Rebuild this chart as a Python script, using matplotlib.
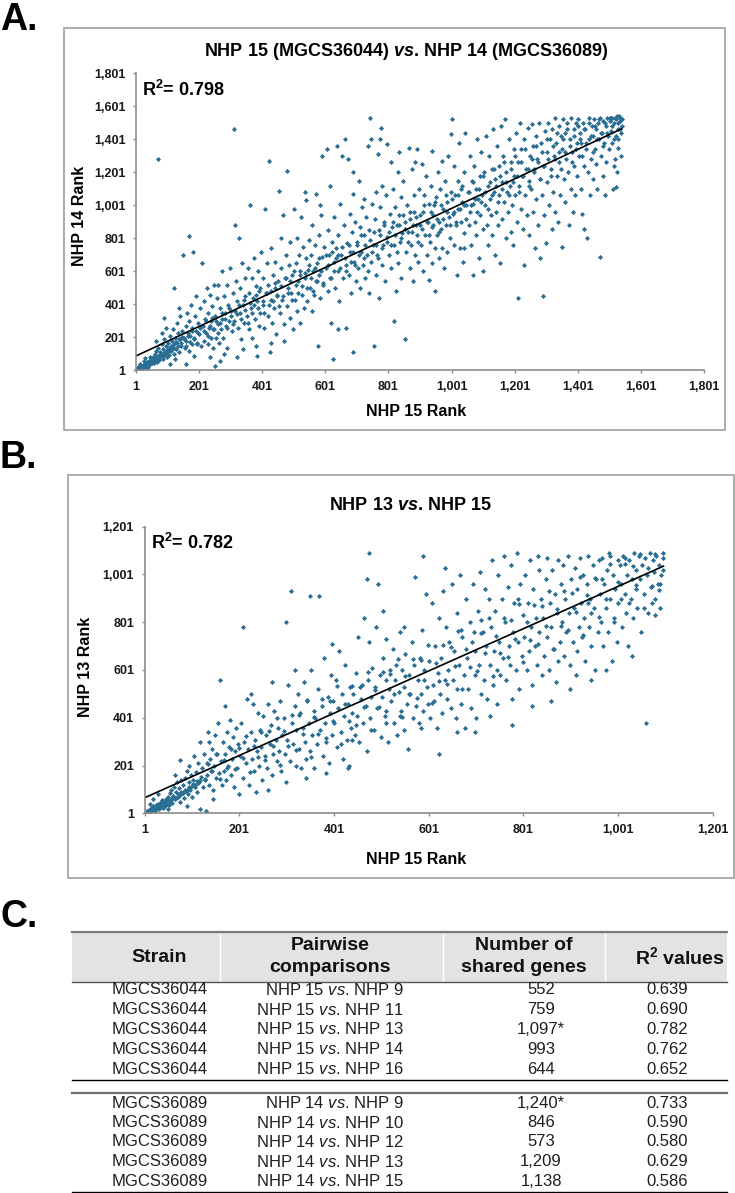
import matplotlib
matplotlib.use("Agg")
import matplotlib.pyplot as plt
import numpy as np
from matplotlib.patches import Rectangle
from matplotlib.lines import Line2D

plt.rcParams['font.family'] = ['Liberation Sans', 'DejaVu Sans']
plt.rcParams['mathtext.fontset'] = 'custom'
plt.rcParams['mathtext.rm'] = 'Liberation Sans'
plt.rcParams['mathtext.it'] = 'Liberation Sans:italic'
plt.rcParams['mathtext.bf'] = 'Liberation Sans:bold'
plt.rcParams['mathtext.bfit'] = 'Liberation Sans:italic:bold'

#%% data (rank pairs, estimated)
# panel A: NHP 15 rank (x) vs NHP 14 rank (y)
pts_a = [
 (2,3),(5,8),(8,4),(10,15),(12,9),(15,22),(18,12),(20,30),(22,18),(25,35),(28,20),(30,45),(33,28),(35,50),
 (38,40),(40,25),(42,60),(45,38),(48,55),(50,70),(14,40),(26,60),(36,15),(44,80),(6,20),(31,75),
 (52,45),(55,80),(58,60),(60,100),(62,75),(65,120),(68,50),(70,90),(72,140),(75,65),(78,110),(80,95),
 (82,160),(85,70),(88,130),(90,190),(92,100),(95,150),(98,80),(100,120),(70,1280),(90,320),(64,180),(84,230),(96,260),
 (102,170),(105,95),(108,140),(110,210),(112,120),(115,180),(118,250),(120,100),(122,160),(125,200),(128,130),
 (130,290),(132,170),(135,230),(138,110),(140,190),(142,330),(145,150),(148,240),(120,500),(150,700),(110,40),(136,380),(126,70),
 (152,200),(155,140),(158,270),(160,180),(162,350),(165,230),(168,120),(170,300),(172,210),(175,400),(178,160),
 (180,260),(182,720),(185,190),(188,330),(190,240),(192,450),(195,170),(198,290),(170,815),(160,40),(185,90),
 (202,220),(205,380),(208,150),(210,650),(212,270),(215,180),(218,420),(220,310),(222,230),(225,500),(228,160),
 (230,350),(232,260),(235,460),(238,200),(240,300),(242,390),(245,140),(248,520),(250,30),(236,80),(244,250),
 (252,330),(255,200),(258,440),(260,280),(262,520),(265,170),(268,380),(270,250),(272,600),(275,310),(278,200),
 (280,450),(282,350),(285,270),(288,520),(290,140),(292,400),(295,300),(298,620),(280,100),(266,60),
 (302,360),(305,240),(308,470),(310,1465),(312,300),(315,880),(318,540),(320,80),(322,420),(325,260),(328,800),
 (330,350),(332,500),(335,190),(338,650),(340,400),(342,290),(345,560),(348,450),(340,130),
 (352,330),(355,620),(358,250),(360,470),(362,1000),(365,380),(368,560),(370,200),(372,440),(375,680),(378,310),
 (380,510),(382,150),(385,420),(388,600),(390,270),(392,480),(395,350),(398,720),(385,90),
 (402,400),(405,560),(408,260),(410,980),(412,470),(415,650),(418,330),(420,520),(422,1270),(425,110),(428,430),
 (430,740),(432,290),(435,580),(438,380),(440,500),(442,660),(445,220),(448,450),(430,170),
 (452,540),(455,1090),(458,350),(460,800),(462,620),(465,430),(468,940),(470,280),(472,560),(475,700),(478,390),
 (480,1210),(482,500),(485,640),(488,320),(490,780),(492,470),(495,580),(498,250),(470,180),
 (502,980),(505,430),(508,650),(510,360),(512,800),(515,540),(518,700),(520,290),(522,600),(525,930),(528,460),
 (530,750),(532,380),(535,560),(538,1080),(540,680),(542,420),(545,610),(548,790),(540,1030),
 (552,500),(555,700),(558,360),(560,880),(562,600),(565,460),(568,760),(570,1070),(572,540),(575,650),(578,150),
 (580,820),(582,580),(585,440),(588,940),(590,690),(592,1300),(595,520),(598,750),(585,1000),
 (602,620),(605,1340),(608,480),(610,850),(612,700),(615,1120),(618,560),(620,290),(622,780),(625,70),(628,660),
 (630,930),(632,500),(635,740),(638,1360),(640,600),(642,820),(645,420),(648,1010),(640,250),
 (652,700),(655,1300),(658,560),(660,880),(662,1400),(665,640),(668,260),(670,770),(672,1280),(675,580),(678,950),
 (680,720),(682,470),(685,840),(688,110),(690,1070),(692,660),(695,900),(698,540),(690,1200),
 (702,780),(705,620),(708,1150),(710,870),(712,500),(715,720),(718,990),(720,640),(722,1040),(725,820),(728,560),
 (730,930),(732,700),(735,1360),(738,470),(740,850),(742,1530),(745,660),(748,1010),(745,1400),
 (752,760),(755,150),(758,920),(760,580),(762,1080),(765,700),(768,1310),(770,850),(772,440),(775,990),(778,1470),
 (780,640),(782,1120),(785,760),(788,900),(790,540),(792,1060),(795,810),(798,1370),(775,1400),
 (802,700),(805,950),(808,1260),(810,620),(812,870),(815,1100),(818,760),(820,300),(822,990),(825,480),(828,880),
 (830,1200),(832,650),(835,940),(838,780),(840,1050),(842,560),(845,830),(848,1150),(835,1320),
 (852,900),(855,190),(858,720),(860,1000),(862,840),(865,1350),(868,620),(870,960),(872,760),(875,1220),(878,880),
 (880,540),(882,1060),(885,700),(888,930),(890,820),(892,1340),(895,660),(898,1100),(885,1260),
 (902,880),(905,760),(908,1250),(910,960),(912,600),(915,1060),(918,820),(920,1180),(922,700),(925,900),(928,550),
 (930,1010),(932,780),(935,1120),(938,870),(940,650),(942,940),(945,1000),(948,740),(950,480),(940,1330),
 (952,1050),(955,820),(958,1200),(960,900),(962,680),(965,1100),(968,860),(970,1270),(972,740),(975,980),(978,620),
 (980,1150),(982,880),(985,1020),(988,720),(990,1300),(992,930),(995,800),(998,1080),(1000,1430),
 (1002,1520),(1005,950),(1008,760),(1010,1240),(1012,1060),(1015,880),(1018,580),(1020,1150),(1022,980),(1025,1380),
 (1028,740),(1030,1100),(1032,900),(1035,1020),(1038,660),(1040,1200),(1042,830),(1045,1440),(1048,1000),(1040,740),
 (1052,1080),(1055,880),(1058,1300),(1060,960),(1062,760),(1065,1150),(1068,1010),(1070,580),(1072,1240),(1075,900),
 (1078,1100),(1080,820),(1082,1400),(1085,1040),(1088,680),(1090,1180),(1092,940),(1095,1320),(1098,1060),(1100,860),
 (1102,600),(1105,1200),(1108,1000),(1110,1420),(1112,880),(1115,1120),(1118,760),(1120,1300),(1122,1040),(1125,940),
 (1128,1220),(1130,820),(1132,1460),(1135,1080),(1138,700),(1140,1160),(1142,960),(1145,1360),(1148,880),(1150,1240),
 (1152,1060),(1155,650),(1158,1480),(1160,1140),(1162,920),(1165,1300),(1168,1020),(1170,1520),(1172,800),(1175,1200),
 (1178,1080),(1180,960),(1182,1400),(1185,1120),(1188,840),(1190,1260),(1192,1000),(1195,760),(1198,1340),(1200,1180),
 (1202,1060),(1205,1440),(1208,900),(1210,440),(1212,1260),(1215,1120),(1218,1500),(1220,980),(1222,1340),(1225,1180),
 (1228,860),(1230,640),(1232,1400),(1235,1060),(1238,1220),(1240,940),(1242,1470),(1245,1150),(1248,820),(1250,1300),
 (1252,1100),(1255,1490),(1258,960),(1260,1360),(1262,1220),(1265,740),(1268,1420),(1270,1040),(1272,1280),(1275,880),
 (1278,1500),(1280,1160),(1282,680),(1285,1380),(1288,1060),(1290,450),(1292,1240),(1295,940),(1298,1450),(1300,770),
 (1302,1320),(1305,1140),(1308,1500),(1310,1000),(1312,1400),(1315,1220),(1318,860),(1320,1460),(1322,1080),(1325,1300),
 (1328,1530),(1330,960),(1332,1380),(1335,1180),(1338,900),(1340,1480),(1342,1260),(1345,1060),(1348,1420),(1350,750),
 (1352,1340),(1355,1520),(1358,1160),(1360,1440),(1362,1020),(1365,1280),(1368,1500),(1370,1200),(1372,880),(1375,1400),
 (1378,1100),(1380,1530),(1382,1320),(1385,960),(1388,1460),(1390,1240),(1392,1060),(1395,1500),(1398,1380),(1400,1180),
 (1402,1520),(1405,1300),(1408,1440),(1410,1100),(1412,1380),(1415,950),(1418,1500),(1420,1240),(1422,860),(1425,1460),
 (1428,1340),(1430,800),(1432,1200),(1435,1530),(1438,1400),(1440,1060),(1442,1280),(1445,1480),(1448,1160),(1450,1420),
 (1452,1520),(1455,1340),(1458,1460),(1460,1250),(1462,1100),(1465,1500),(1468,1400),(1470,690),(1472,1530),(1475,1300),
 (1478,1440),(1480,1180),(1482,1510),(1485,1380),(1488,1060),(1490,1480),(1492,1260),(1495,1530),(1498,1420),(1500,1340),
 (1502,1510),(1505,1450),(1508,1530),(1510,1380),(1512,1100),(1515,1500),(1518,1280),(1520,1530),(1522,1420),(1525,1200),
 (1528,1500),(1530,1350),(1532,1540),(1535,1460),(1538,1300),(1540,1520),(1522,1110),(1515,1240),(1530,1400),(1538,1440),
 (1505,1530),(1525,1540),(1535,1510),
]
# denser core of panel A, close to the trend line
core_a = [
 (3,5),(7,10),(11,6),(16,18),(19,25),(23,14),(27,30),(32,22),(37,33),(41,45),(46,50),(53,62),(57,48),(63,70),
 (67,85),(73,78),(77,95),(83,100),(87,88),(93,115),(97,105),(103,130),(107,118),(113,150),(117,135),(123,140),
 (127,175),(133,150),(137,190),(143,170),(147,205),(153,190),
 (160,150),(165,210),(172,175),(178,240),(186,200),(193,160),(198,230),(205,260),
 (215,240),(222,300),(228,210),(235,270),(242,320),(248,250),(255,300),(262,230),
 (268,290),(275,350),(282,310),(288,260),(295,380),(302,330),(308,280),(315,360),
 (322,340),(328,400),(335,310),(342,430),(348,370),(355,290),(362,410),(368,350),
 (375,400),(382,460),(388,380),(395,500),(402,420),(408,350),(415,470),(422,400),
 (428,480),(435,420),(442,530),(448,460),(455,390),(462,510),(468,450),(475,560),
 (482,470),(488,540),(495,430),(502,600),(508,520),(515,470),(522,580),(528,510),
 (535,590),(542,500),(548,640),(555,560),(562,480),(568,620),(575,540),(582,680),
 (588,600),(595,530),(602,700),(608,640),(615,560),(622,720),(628,600),(635,680),
 (642,700),(648,620),(655,750),(662,680),(668,600),(675,760),(682,660),(688,720),
 (695,640),(702,760),(708,700),(715,820),(722,680),(728,760),(735,600),(742,790),
 (748,720),(755,840),(762,760),(768,680),(775,820),(782,740),(788,880),(795,780),
 (802,840),(808,760),(815,900),(822,820),(828,720),(835,880),(842,800),(848,940),
 (855,860),(862,780),(868,920),(875,840),(882,960),(888,880),(895,780),(902,940),
 (908,860),(915,1000),(922,900),(928,820),(935,960),(942,880),(948,1020),(955,920),
 (962,840),(968,1000),(975,920),(982,1060),(988,960),(995,880),(1002,1040),(1008,960),
 (1015,900),(1022,1060),(1028,980),(1035,1120),(1042,1000),(1048,920),(1055,1080),(1062,1000),
 (1068,1140),(1075,1040),(1082,960),(1088,1100),(1095,1020),(1102,1180),(1108,1080),(1115,980),
 (1122,1140),(1128,1060),(1135,1220),(1142,1120),(1148,1020),(1155,1180),(1162,1100),(1168,1260),
 (1175,1140),(1182,1060),(1188,1220),(1195,1140),(1202,1300),(1208,1180),(1215,1080),(1222,1260),
 (1228,1180),(1235,1340),(1242,1220),(1248,1120),(1255,1280),(1262,1200),(1268,1360),(1275,1260),
 (1282,1160),(1288,1320),(1295,1240),(1302,1400),(1308,1280),(1315,1180),(1322,1360),(1328,1280),
 (1335,1440),(1342,1320),(1348,1220),(1355,1400),(1362,1320),(1368,1460),(1375,1360),(1382,1260),
 (1388,1420),(1395,1340),(1402,1480),(1408,1400),(1415,1300),(1422,1460),(1428,1380),(1435,1500),
 (1442,1420),(1448,1320),(1455,1480),(1462,1400),(1468,1520),(1475,1440),(1482,1360),(1488,1500),
 (1495,1440),(1502,1530),(1508,1480),(1515,1400),(1522,1520),(1528,1460),(1535,1530),(1540,1480),
]

# panel B: NHP 15 rank (x) vs NHP 13 rank (y)
pts_b = [
 (2,2),(4,8),(6,3),(8,12),(10,6),(12,18),(14,10),(16,24),(18,14),(20,30),(22,20),(24,12),(26,36),(28,25),(30,40),
 (32,18),(34,46),(36,30),(38,55),(40,22),(20,60),(30,80),(12,40),
 (42,48),(44,30),(46,60),(48,40),(50,70),(52,35),(54,85),(56,55),(58,100),(60,45),(62,75),(64,110),(66,60),(68,90),
 (70,130),(72,70),(74,105),(76,50),(78,140),(80,85),(50,20),(66,160),(75,225),
 (82,120),(84,65),(86,150),(88,95),(90,180),(92,80),(94,130),(96,200),(98,100),(100,160),(102,70),(104,140),(106,240),
 (108,110),(110,175),(112,90),(114,210),(116,130),(118,300),(120,155),(90,30),(118,20),
 (122,190),(124,110),(126,250),(128,140),(130,10),(132,210),(134,160),(136,340),(138,120),(140,230),(142,180),(144,270),
 (146,100),(148,200),(150,330),(152,150),(154,250),(156,380),(158,170),(160,560),(145,60),(138,300),
 (162,220),(164,120),(166,300),(168,180),(170,450),(172,250),(174,140),(176,340),(178,200),(180,280),(182,390),(184,160),
 (186,230),(188,320),(190,110),(192,260),(194,360),(196,190),(198,290),(200,80),
 (202,240),(205,380),(208,150),(210,780),(212,300),(215,210),(218,480),(220,270),(222,120),(225,340),(228,230),(230,460),
 (232,180),(235,310),(238,260),(240,420),(236,90),(226,500),
 (242,200),(245,350),(248,280),(250,140),(252,410),(255,240),(258,330),(260,190),(262,460),(265,290),(268,370),(270,160),
 (272,250),(275,430),(278,310),(280,220),(270,550),(262,100),
 (282,360),(285,260),(288,470),(290,180),(292,330),(295,400),(298,250),(300,800),(302,310),(305,540),(308,220),(310,930),
 (312,380),(315,290),(318,450),(320,200),(300,130),(318,600),
 (322,350),(325,500),(328,270),(330,420),(332,190),(335,360),(338,550),(340,300),(342,230),(345,470),(348,380),(350,260),
 (352,600),(355,330),(358,430),(360,190),(350,910),(342,150),
 (362,400),(365,290),(368,520),(370,910),(372,350),(375,450),(378,240),(380,650),(382,380),(385,300),(388,490),(390,210),
 (392,420),(395,580),(398,330),(400,470),(385,170),(396,710),
 (402,380),(405,560),(408,280),(410,440),(412,680),(415,340),(418,500),(420,230),(422,410),(425,620),(428,310),(430,460),
 (432,200),(435,530),(438,360),(440,420),(430,190),(440,310),
 (442,500),(445,330),(448,590),(450,410),(452,740),(455,300),(458,480),(460,540),(462,380),(465,820),(468,450),(470,260),
 (472,560),(475,720),(478,400),(480,490),(470,980),(476,1090),
 (482,610),(485,350),(488,530),(490,780),(492,440),(495,960),(498,580),(500,320),(502,490),(505,650),(508,410),(510,560),
 (512,730),(515,300),(518,520),(520,600),(505,850),(512,380),
 (522,470),(525,690),(528,380),(530,560),(532,620),(535,330),(538,510),(540,760),(542,430),(545,600),(548,350),(550,530),
 (552,670),(555,460),(558,270),(560,580),(548,780),(540,410),
 (562,500),(565,720),(568,400),(570,620),(572,990),(575,450),(578,560),(580,380),(582,650),(585,500),(588,770),(590,430),
 (592,600),(595,920),(598,530),(600,460),(590,1080),(585,360),
 (602,640),(605,400),(608,880),(610,540),(612,470),(615,700),(618,360),(620,590),(622,820),(625,500),(628,650),(630,420),
 (632,930),(635,560),(638,780),(640,480),(622,250),(635,1030),
 (642,600),(645,720),(648,440),(650,960),(652,560),(655,680),(658,400),(660,840),(662,520),(665,620),(668,1000),(670,460),
 (672,740),(675,580),(678,360),(680,900),(660,340),(670,770),
 (682,650),(685,520),(688,800),(690,440),(692,720),(695,960),(698,580),(700,680),(702,400),(705,850),(708,620),(710,1010),
 (712,500),(715,760),(718,560),(720,940),(700,340),(712,810),
 (722,700),(725,480),(728,900),(730,620),(732,780),(735,1060),(738,540),(740,680),(742,850),(745,460),(748,1000),(750,720),
 (752,580),(755,900),(758,650),(760,1080),(745,600),(730,410),
 (762,800),(765,560),(768,950),(770,700),(772,620),(775,1040),(778,480),(780,760),(782,880),(785,600),(788,1090),(790,720),
 (792,520),(795,960),(798,660),(800,830),(778,370),(790,900),
 (802,740),(805,1000),(808,600),(810,880),(812,680),(815,1060),(818,780),(820,540),(822,940),(825,700),(828,820),(830,620),
 (832,1080),(835,760),(838,900),(840,580),(820,450),(835,1020),
 (842,820),(845,660),(848,980),(850,740),(852,1070),(855,600),(858,880),(860,780),(862,1020),(865,690),(868,920),(870,550),
 (872,840),(875,1060),(878,720),(880,960),(860,470),(875,640),
 (882,800),(885,1040),(888,660),(890,900),(892,760),(895,1080),(898,840),(900,620),(902,980),(905,720),(908,860),(910,1030),
 (912,580),(915,940),(918,780),(920,1070),(900,520),(915,680),
 (922,880),(925,740),(928,1000),(930,820),(932,640),(935,960),(938,1080),(940,780),(942,900),(945,700),(948,1040),(950,860),
 (952,600),(955,980),(958,760),(960,1060),(945,560),(938,880),
 (962,920),(965,800),(968,1070),(970,700),(972,960),(975,860),(978,1020),(980,760),(982,1090),(985,900),(988,640),(990,1000),
 (992,820),(995,940),(998,720),(1000,1060),(985,1080),(975,600),
 (1002,880),(1005,1040),(1008,960),(1010,780),(1012,1080),(1015,920),(1018,840),(1020,1000),(1022,700),(1025,1060),
 (1028,900),(1030,980),(1032,820),(1035,1090),(1038,940),(1040,1020),(1030,660),(1015,1070),
 (1042,860),(1045,1080),(1048,980),(1050,760),(1052,1040),(1055,920),(1058,1070),(1060,380),(1062,1000),(1065,840),
 (1068,1090),(1070,950),(1072,880),(1075,1060),(1078,1010),(1080,900),(1082,1080),(1085,960),(1088,1040),(1090,860),
 (1092,1000),(1095,1070),(1097,1020),(1080,830),(1090,960),
]
# denser core of panel B
core_b = [
 (3,4),(7,9),(11,8),(15,16),(19,22),(23,18),(27,32),(31,28),(35,38),(39,44),(43,40),(47,52),(51,58),(55,50),
 (59,66),(63,70),(67,64),(71,80),(75,78),(79,92),(83,88),(87,100),(91,98),(95,112),(99,110),(103,122),(107,118),
 (111,135),(115,128),(119,142),
 (128,145),(136,208),(144,180),(152,248),(160,143),(168,224),(176,191),(184,270),(192,186),(200,276),
 (208,231),(216,324),(224,173),(232,283),(240,236),(248,341),(256,226),(264,344),(272,283),(280,401),
 (288,205),(296,344),(304,282),(312,412),(320,266),(328,411),(336,333),(344,477),(352,237),(360,404),
 (368,331),(376,478),(384,315),(392,472),(400,389),(408,536),(416,293),(424,460),(432,387),(440,534),
 (448,371),(456,529),(464,446),(472,593),(480,350),(488,517),(496,444),(504,591),(512,428),(520,585),
 (528,502),(536,649),(544,406),(552,574),(560,501),(568,648),(576,485),(584,642),(592,559),(600,706),
 (608,463),(616,630),(624,557),(632,704),(640,541),(648,698),(656,616),(664,763),(672,520),(680,687),
 (688,614),(696,761),(704,598),(712,755),(720,672),(728,819),(736,576),(744,743),(752,671),(760,818),
 (768,655),(776,812),(784,729),(792,876),(800,633),(808,800),(816,727),(824,874),(832,711),(840,868),
 (848,785),(856,933),(864,690),(872,857),(880,784),(888,931),(896,768),(904,925),(912,842),(920,989),
 (928,746),(936,913),(944,840),(952,988),(960,825),(968,982),(976,899),(984,1046),(992,803),(1000,970),
 (1008,897),(1016,1044),(1024,881),(1032,1038),(1040,955),(1048,1085),(1056,860),(1064,1027),(1072,954),
 (1080,1088),(1088,938),(1096,1092),
]

# Excel linear trend lines (slope, intercept)
trend_a = (0.893, 88.0)
trend_b = (0.885, 65.0)

ticks_a = [1, 201, 401, 601, 801, 1001, 1201, 1401, 1601, 1801]
ticks_b = [1, 201, 401, 601, 801, 1001, 1201]

strains = ["MGCS36044"]*5 + ["MGCS36089"]*5
comp_left = ["NHP 15"]*5 + ["NHP 14"]*5
comp_right = ["NHP 9", "NHP 11", "NHP 13", "NHP 14", "NHP 16",
              "NHP 9", "NHP 10", "NHP 12", "NHP 13", "NHP 15"]
shared = ["552", "759", "1,097*", "993", "644",
          "1,240*", "846", "573", "1,209", "1,138"]
r2_vals = ["0.639", "0.690", "0.782", "0.762", "0.652",
           "0.733", "0.590", "0.580", "0.629", "0.586"]

#%% figure, positions in pixels of a 735x1193 canvas
W, H = 735, 1193
fig = plt.figure(figsize=(W/100, H/100), dpi=100)

def fx(x):
    return x/W
def fy(y):
    return 1 - y/H

dot_c = "#2a6f93"
axis_c = "#8c8c8c"

def scatter_panel(rect, pts, trend, ticks, lim):
    ax = fig.add_axes(rect)
    x = np.array([p[0] for p in pts], dtype=float)
    y = np.array([p[1] for p in pts], dtype=float)
    ax.plot(x, y, linestyle="none", marker="D", ms=2.6, mew=0, c=dot_c)
    k, b = trend
    xx = np.array([1, x.max()])
    ax.plot(xx, k*xx + b, c="black", lw=1.2)
    ax.set_xlim(1, lim)
    ax.set_ylim(1, lim)
    ax.set_xticks(ticks)
    ax.set_yticks(ticks)
    ax.set_xticklabels([f"{t:,}" for t in ticks])
    ax.set_yticklabels([f"{t:,}" for t in ticks])
    for s in ["top", "right"]:
        ax.spines[s].set_visible(False)
    for s in ["left", "bottom"]:
        ax.spines[s].set_color(axis_c)
        ax.spines[s].set_linewidth(1.2)
    ax.tick_params(direction="out", length=2.5, width=1, color=axis_c,
                   labelsize=9, pad=5, labelcolor="#1a1a1a")
    for lab in ax.get_xticklabels() + ax.get_yticklabels():
        lab.set_fontweight("bold")
    ax.set_facecolor("none")
    return ax

def frame(x0, y0, x1, y1):
    fig.add_artist(Rectangle((fx(x0), fy(y1)), (x1-x0)/W, (y1-y0)/H,
                             transform=fig.transFigure, fill=False,
                             ec="#a6a6a6", lw=1.3))

# panel A
frame(64, 28, 725, 430)
axA = scatter_panel([fx(136), fy(370.5), 568/W, 297.5/H], pts_a + core_a,
                    trend_a, ticks_a, 1801)
fig.text(fx(0), fy(30), "A.", fontsize=27, fontweight="bold", va="baseline")
fig.text(fx(406), fy(52), r"NHP 15 (MGCS36044) $\mathbfit{vs}$. NHP 14 (MGCS36089)",
         fontsize=13, fontweight="bold", ha="center", va="center")
fig.text(fx(142), fy(90), r"R$^{\mathbf{2}}$= 0.798", fontsize=13,
         fontweight="bold", ha="left", va="center")
fig.text(fx(79), fy(216), "NHP 14 Rank", fontsize=11.5, fontweight="bold",
         rotation=90, ha="center", va="center")
fig.text(fx(416), fy(412), "NHP 15 Rank", fontsize=11.5, fontweight="bold",
         ha="center", va="center")

# panel B
frame(68, 475, 734, 878)
axB = scatter_panel([fx(144.5), fy(813.3), 568.2/W, 286.6/H], pts_b + core_b,
                    trend_b, ticks_b, 1201)
fig.text(fx(0), fy(468), "B.", fontsize=27, fontweight="bold", va="baseline")
fig.text(fx(410), fy(505), r"NHP 13 $\mathbfit{vs}$. NHP 15",
         fontsize=13, fontweight="bold", ha="center", va="center")
fig.text(fx(151), fy(543), r"R$^{\mathbf{2}}$= 0.782", fontsize=13,
         fontweight="bold", ha="left", va="center")
fig.text(fx(86), fy(667), "NHP 13 Rank", fontsize=11.5, fontweight="bold",
         rotation=90, ha="center", va="center")
fig.text(fx(416), fy(860), "NHP 15 Rank", fontsize=11.5, fontweight="bold",
         ha="center", va="center")

#%% panel C: table
fig.text(fx(0), fy(927), "C.", fontsize=27, fontweight="bold", va="baseline")
tl, tr = 72, 727

def hline(y, c="black", lw=1.0):
    fig.add_artist(Line2D([fx(tl), fx(tr)], [fy(y), fy(y)], color=c, lw=lw,
                          transform=fig.transFigure))

fig.add_artist(Rectangle((fx(tl), fy(981.5)), (tr-tl)/W, (981.5-932)/H,
                         transform=fig.transFigure, fc="#e3e3e3", ec="none"))
for xs in [220, 443, 605]:
    fig.add_artist(Line2D([fx(xs), fx(xs)], [fy(932), fy(981.5)], color="white",
                          lw=1.0, transform=fig.transFigure))
hline(932, c="#7a7a7a", lw=1.6)
hline(981.5, c="#555555", lw=1.0)

hdr = dict(fontsize=14, fontweight="bold", ha="center", va="center",
           color="#111111")
fig.text(fx(159), fy(957), "Strain", **hdr)
fig.text(fx(330), fy(946), "Pairwise", **hdr)
fig.text(fx(330), fy(968), "comparisons", **hdr)
fig.text(fx(524), fy(946), "Number of", **hdr)
fig.text(fx(524), fy(968), "shared genes", **hdr)
fig.text(fx(680), fy(957), r"R$^{\mathbf{2}}$ values", **hdr)

row_y = [990, 1010, 1029.5, 1049, 1069, 1103, 1122.5, 1142, 1162, 1181.5]
body = dict(fontsize=12, va="center", color="#1f1f1f")
for i, yy in enumerate(row_y):
    fig.text(fx(159.5), fy(yy), strains[i], ha="center", **body)
    fig.text(fx(404), fy(yy), comp_left[i] + r" $\mathit{vs}$. " + comp_right[i],
             ha="right", **body)
    fig.text(fx(541), fy(yy), shared[i], ha="center", **body)
    fig.text(fx(667), fy(yy), r2_vals[i], ha="center", **body)

hline(1079.5, c="black", lw=1.0)
hline(1093, c="#6e6e6e", lw=1.6)
hline(1191.5, c="black", lw=1.0)

fig.savefig("out.png", dpi=100)
